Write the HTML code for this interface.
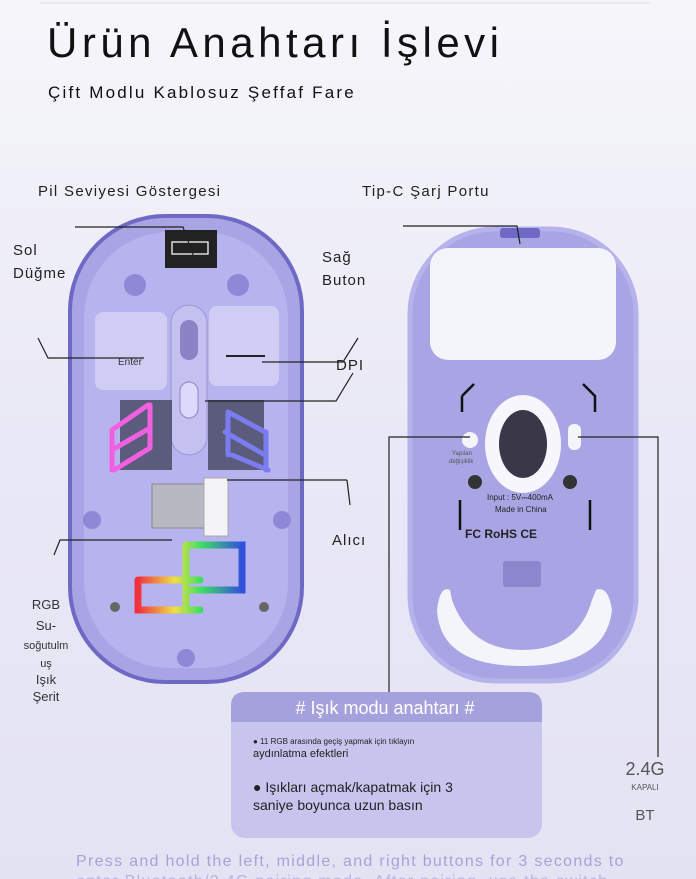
<!DOCTYPE html>
<html><head><meta charset="utf-8"><style>
body{margin:0;width:696px;height:879px;overflow:hidden;background:#eeeef8;font-family:"Liberation Sans",sans-serif}
svg{display:block}
text{font-family:"Liberation Sans","DejaVu Sans",sans-serif}
</style></head><body>
<svg width="696" height="879" viewBox="0 0 696 879">
<defs>
<linearGradient id="bg" x1="0" y1="0" x2="0" y2="1"><stop offset="0" stop-color="#f6f6fa"/><stop offset="0.5" stop-color="#e9e8f6"/><stop offset="1" stop-color="#e4e3f3"/></linearGradient>
<linearGradient id="rgb" x1="0" y1="0" x2="1" y2="0"><stop offset="0" stop-color="#f03040"/><stop offset="0.35" stop-color="#f0e040"/><stop offset="0.6" stop-color="#40e060"/><stop offset="1" stop-color="#3050e0"/></linearGradient>
</defs>
<rect width="696" height="879" fill="url(#bg)"/>
<line x1="40" y1="3" x2="650" y2="3" stroke="#ddd" stroke-width="1"/>
<text x="47" y="57" font-size="42" fill="#111" letter-spacing="4.5">Ürün Anahtarı İşlevi</text>
<text x="48" y="98" font-size="17" fill="#111" letter-spacing="2.2">Çift Modlu Kablosuz Şeffaf Fare</text>

<!-- left mouse -->
<rect x="70" y="216" width="232" height="466" rx="95" fill="#a9a5e4" stroke="#6f69c6" stroke-width="4"/>
<rect x="84" y="232" width="204" height="436" rx="85" fill="#b7b3ee"/>
<rect x="165" y="230" width="52" height="38" fill="#222"/>
<rect x="172" y="242" width="36" height="12" fill="none" stroke="#ddd" stroke-width="1.5"/>
<circle cx="135" cy="285" r="11" fill="#8e88d6"/><circle cx="238" cy="285" r="11" fill="#8e88d6"/>
<rect x="95" y="312" width="72" height="78" rx="8" fill="#d0cdf5"/>
<rect x="209" y="306" width="70" height="80" rx="8" fill="#d0cdf5"/>
<text x="118" y="365" font-size="10" fill="#333">Enter</text>
<line x1="226" y1="356" x2="265" y2="356" stroke="#222" stroke-width="2"/>
<rect x="171" y="305" width="36" height="150" rx="18" fill="#c4c0f0" stroke="#9a95d8"/>
<rect x="180" y="320" width="18" height="40" rx="9" fill="#8a83c6"/>
<rect x="180" y="382" width="18" height="36" rx="9" fill="#ddd9fa" stroke="#8a83c6"/>
<rect x="120" y="400" width="52" height="70" fill="#33384a" opacity="0.7"/>
<rect x="208" y="400" width="56" height="70" fill="#33384a" opacity="0.7"/>
<g stroke="#f060e0" stroke-width="5" fill="none" stroke-linecap="round"><path d="M112 430 L148 405 M112 450 L150 428 M114 470 L150 448 M112 430 V470 M150 405 V448"/></g>
<g stroke="#7a7cf0" stroke-width="5" fill="none" stroke-linecap="round"><path d="M228 412 L265 432 M225 432 L265 455 M232 455 L268 470 M228 412 V455 M266 432 V470"/></g>
<rect x="152" y="484" width="60" height="44" fill="#b8b8c0" stroke="#888"/>
<rect x="204" y="478" width="24" height="58" fill="#f4f4f8" stroke="#aaa"/>
<g stroke="url(#rgb)" stroke-width="7" fill="none" stroke-linecap="round"><path d="M138 580 H200 M138 580 V610 H200 M188 545 H242 V590 H188 M186 545 V610"/></g>
<circle cx="92" cy="520" r="9" fill="#8e88d6"/><circle cx="282" cy="520" r="9" fill="#8e88d6"/>
<circle cx="186" cy="658" r="9" fill="#8e88d6"/>
<circle cx="115" cy="607" r="5" fill="#666"/><circle cx="264" cy="607" r="5" fill="#666"/>

<!-- right mouse -->
<rect x="410" y="229" width="226" height="452" rx="85" fill="#a9a5e4" stroke="#b6b2ec" stroke-width="5"/>
<rect x="430" y="248" width="186" height="112" rx="18" fill="#f4f4fb"/>
<rect x="500" y="228" width="40" height="10" rx="3" fill="#6f69c6"/>
<path d="M437 610 Q440 585 450 590 L452 600 Q470 650 522 650 Q578 650 592 600 L596 590 Q608 585 612 610 Q606 666 522 666 Q440 666 437 610Z" fill="#f4f4fb"/>
<ellipse cx="523" cy="444" rx="38" ry="49" fill="#f6f6fc"/>
<ellipse cx="523" cy="444" rx="24" ry="34" fill="#3a3848"/>
<circle cx="470" cy="440" r="8" fill="#f4f4fb"/><rect x="568" y="424" width="13" height="26" rx="6" fill="#f4f4fb"/>
<circle cx="475" cy="482" r="7" fill="#333"/><circle cx="570" cy="482" r="7" fill="#333"/>
<text x="487" y="500" font-size="8" fill="#222">Input : 5V⎓400mA</text>
<text x="495" y="512" font-size="8" fill="#222">Made in China</text>
<text x="465" y="538" font-size="12" font-weight="bold" fill="#222">FC RoHS CE</text>
<rect x="503" y="561" width="38" height="26" rx="3" fill="#8c86cc"/>
<text x="452" y="455" font-size="6" fill="#555">Yapılan</text><text x="449" y="463" font-size="6" fill="#555">değişiklik</text>
<g stroke="#111" stroke-width="2.5" fill="none"><path d="M462 396 L474 384 M462 396 V412 M583 384 L595 396 V412 M460 500 V530 M590 500 V530"/></g>

<!-- connectors -->
<g stroke="#222" stroke-width="1.2" fill="none">
<path d="M75 227 H183 L195 260"/>
<path d="M38 338 L48 358 H144"/>
<path d="M358 338 L343 362 H262"/>
<path d="M353 373 L336 401 H205"/>
<path d="M347 480 H227"/>
<path d="M347 480 L350 505"/>
<path d="M403 226 H517 L520 244"/>
<path d="M54 555 L60 540 H172"/>
<path d="M470 437 H389 V700"/>
<path d="M578 437 H658 V757"/>
</g>

<text x="38" y="196" font-size="15" fill="#222" letter-spacing="1.3">Pil Seviyesi Göstergesi</text>
<text x="362" y="196" font-size="15" fill="#222" letter-spacing="1.3">Tip-C Şarj Portu</text>
<text x="13" y="255" font-size="15" fill="#222" letter-spacing="1">Sol</text>
<text x="13" y="278" font-size="15" fill="#222" letter-spacing="1">Düğme</text>
<text x="322" y="262" font-size="15" fill="#222" letter-spacing="1">Sağ</text>
<text x="322" y="285" font-size="15" fill="#222" letter-spacing="1">Buton</text>
<text x="336" y="370" font-size="15" fill="#222" letter-spacing="1">DPI</text>
<text x="332" y="545" font-size="15" fill="#222" letter-spacing="1">Alıcı</text>
<g font-size="13" fill="#333" text-anchor="middle">
<text x="46" y="609">RGB</text><text x="46" y="630">Su-</text>
<text x="46" y="649" font-size="11">soğutulm</text><text x="46" y="667" font-size="11">uş</text>
<text x="46" y="684">Işık</text><text x="46" y="701">Şerit</text>
</g>
<text x="645" y="775" font-size="18" fill="#555" text-anchor="middle">2.4G</text>
<text x="645" y="790" font-size="8" fill="#555" text-anchor="middle">KAPALI</text>
<text x="645" y="820" font-size="15" fill="#555" text-anchor="middle">BT</text>

<!-- box -->
<rect x="231" y="692" width="311" height="146" rx="14" fill="#c7c4ee"/>
<path d="M245 692 H528 Q542 692 542 706 V722 H231 V706 Q231 692 245 692Z" fill="#a5a1dd"/>
<text x="385" y="714" font-size="18" fill="#fff" text-anchor="middle">#  Işık modu anahtarı #</text>
<text x="253" y="744" font-size="8" fill="#222">● 11 RGB arasında geçiş yapmak için tıklayın</text>
<text x="253" y="757" font-size="11" fill="#222">aydınlatma efektleri</text>
<text x="253" y="792" font-size="14" fill="#222">● Işıkları açmak/kapatmak için 3</text>
<text x="253" y="810" font-size="14" fill="#222">saniye boyunca uzun basın</text>

<text x="76" y="866" font-size="16" fill="#a6a3d8" letter-spacing="1.3">Press and hold the left, middle, and right buttons for 3 seconds to</text>
<text x="76" y="886" font-size="16" fill="#b6b3e0" letter-spacing="1.3">enter Bluetooth/2.4G pairing mode. After pairing, use the switch</text>
</svg>
</body></html>
